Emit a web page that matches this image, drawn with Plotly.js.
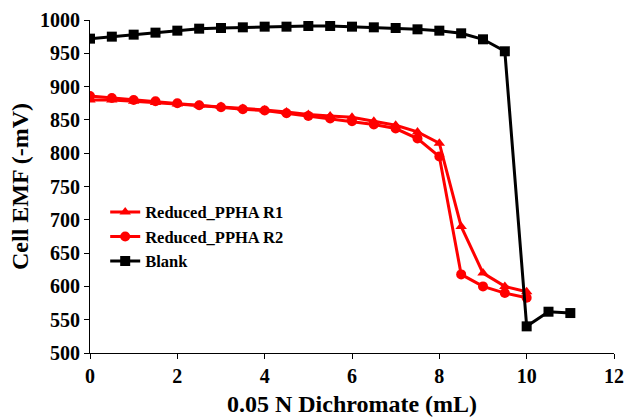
<!DOCTYPE html>
<html><head><meta charset="utf-8">
<script src="https://cdn.plot.ly/plotly-3.0.1.min.js"></script>
<style>body{margin:0;background:#fff}#c{width:625px;height:418px}</style>
</head><body><div id="c"></div>
<script>
const xRed = [0,0.5,1,1.5,2,2.5,3,3.5,4,4.5,5,5.5,6,6.5,7,7.5,8,8.5,9,9.5,10];
const r1 = [880,880,878,876,874,872,870,867,865,862,858,856,854,848,842,832,815,690,620,600,592];
const r2 = [886,883,880,878,875,872,869,866,864,860,856,852,848,843,837,822,795,618,600,590,583];
const xBlank = [0,0.5,1,1.5,2,2.5,3,3.5,4,4.5,5,5.5,6,6.5,7,7.5,8,8.5,9,9.5,10,10.5,11];
const blank = [972,975,978,981,984,987,988,989,990,990,991,991,990,989,988,986,984,980,971,953,540,562,560];
const names = ['Reduced_PPHA R1','Reduced_PPHA R2','Blank'];
const xTicks = [0,2,4,6,8,10,12];
const yTicks = [500,550,600,650,700,750,800,850,900,950,1000];

const traces = [
  {x:xRed,y:r1,name:names[0],mode:'lines+markers',line:{color:'#ff0000',width:3},marker:{symbol:'triangle-up',size:10,color:'#ff0000'}},
  {x:xRed,y:r2,name:names[1],mode:'lines+markers',line:{color:'#ff0000',width:3},marker:{symbol:'circle',size:10,color:'#ff0000'}},
  {x:xBlank,y:blank,name:names[2],mode:'lines+markers',line:{color:'#000000',width:3},marker:{symbol:'square',size:10,color:'#000000'}}
];
const fam = 'Liberation Serif, Times New Roman, serif';
const layout = {
  width:625,height:418,
  margin:{l:90,r:11,t:20,b:65},
  paper_bgcolor:'#fff',plot_bgcolor:'#fff',
  font:{family:fam,color:'#000',size:20,weight:700},
  showlegend:true,
  legend:{x:0.029,y:0.475,xanchor:'left',yanchor:'top',bgcolor:'rgba(0,0,0,0)',
    font:{family:fam,size:16.5,color:'#000',weight:700},tracegroupgap:0},
  xaxis:{range:[0,12],tickmode:'array',tickvals:xTicks,ticktext:xTicks.map(v=>'<b>'+v+'</b>'),
    showgrid:false,zeroline:false,showline:true,linecolor:'#000',linewidth:1,
    ticks:'outside',ticklen:5,tickcolor:'#000',
    tickfont:{family:fam,size:20,color:'#000',weight:700},
    title:{text:'0.05 N Dichromate (mL)',font:{family:fam,size:24,color:'#000',weight:700},standoff:9}},
  yaxis:{range:[500,1000],tickmode:'array',tickvals:yTicks,ticktext:yTicks.map(v=>'<b>'+v+'</b>'),
    showgrid:false,zeroline:false,showline:true,linecolor:'#000',linewidth:1,
    ticks:'outside',ticklen:5,tickcolor:'#000',
    tickfont:{family:fam,size:20,color:'#000',weight:700},
    title:{text:'Cell EMF (-mV)',font:{family:fam,size:24,color:'#000',weight:700},standoff:4}}
};
Plotly.newPlot('c',traces,layout,{displayModeBar:false,staticPlot:true});
</script></body></html>
